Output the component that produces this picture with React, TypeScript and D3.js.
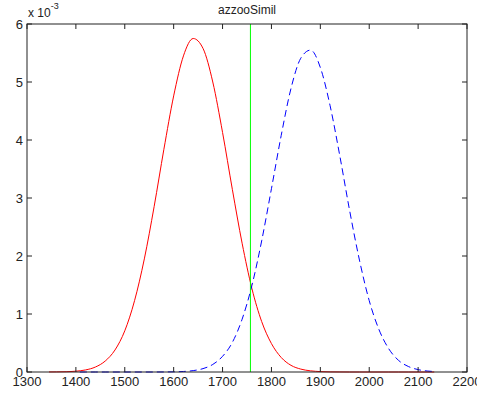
import React from "react";
import * as d3 from "d3";

const title = "azzooSimil";
const xTicks = [1300, 1400, 1500, 1600, 1700, 1800, 1900, 2000, 2100, 2200];
const yTicks = [0, 1, 2, 3, 4, 5, 6];

const redX = [1345, 1360, 1380, 1400, 1420, 1440, 1460, 1480, 1500, 1520, 1540, 1560, 1580, 1600, 1620, 1640, 1660, 1680, 1700, 1720, 1740, 1760, 1780, 1800, 1820, 1840, 1860, 1880, 1900, 1920, 1940, 1960, 1980, 2000, 2020, 2040, 2060, 2080, 2100, 2120, 2133];
const redY = [0.001, 0.002, 0.005, 0.014, 0.036, 0.086, 0.189, 0.38, 0.71, 1.23, 1.95, 2.85, 3.84, 4.76, 5.45, 5.75, 5.58, 5.0, 4.13, 3.15, 2.22, 1.44, 0.87, 0.49, 0.25, 0.115, 0.05, 0.02, 0.007, 0.002, 0.001, 0, 0, 0, 0, 0, 0, 0, 0, 0, 0];

const blueX = [1408, 1420, 1440, 1460, 1480, 1500, 1520, 1540, 1560, 1580, 1600, 1620, 1640, 1660, 1680, 1700, 1720, 1740, 1760, 1780, 1800, 1820, 1840, 1860, 1880, 1900, 1920, 1940, 1960, 1980, 2000, 2020, 2040, 2060, 2080, 2100, 2120, 2130];
const blueY = [0, 0, 0, 0, 0, 0, 0, 0, 0, 0.001, 0.003, 0.009, 0.024, 0.058, 0.13, 0.27, 0.51, 0.91, 1.49, 2.26, 3.16, 4.08, 4.89, 5.41, 5.55, 5.25, 4.59, 3.72, 2.78, 1.93, 1.23, 0.73, 0.4, 0.2, 0.095, 0.041, 0.016, 0.01];

const thresholdX = 1757;

const W = 477;
const H = 405;
const left = 27;
const right = 467;
const top = 24;
const bottom = 372;
const font = "'Liberation Sans', Arial, Helvetica, sans-serif";

export default function App() {
  const x = d3.scaleLinear().domain([1300, 2200]).range([left, right]);
  const y = d3.scaleLinear().domain([0, 6]).range([bottom, top]);
  const line = d3
    .line<[number, number]>()
    .x((d) => x(d[0]))
    .y((d) => y(d[1]))
    .curve(d3.curveMonotoneX);
  const red = redX.map((v, i) => [v, redY[i]] as [number, number]);
  const blue = blueX.map((v, i) => [v, blueY[i]] as [number, number]);
  const tl = 5;
  return (
    <svg
      width={W}
      height={H}
      style={{ position: "absolute", left: 0, top: 0, background: "#fff" }}
    >
      <rect x={0} y={0} width={W} height={H} fill="#fff" />
      <path d={line(red) || ""} fill="none" stroke="#ff0000" strokeWidth={1} />
      <path
        d={line(blue) || ""}
        fill="none"
        stroke="#0000ff"
        strokeWidth={1}
        strokeDasharray="7,4"
      />
      <line
        x1={x(thresholdX)}
        x2={x(thresholdX)}
        y1={y(0)}
        y2={y(6)}
        stroke="#00ff00"
        strokeWidth={1}
      />
      <rect
        x={left}
        y={top}
        width={right - left}
        height={bottom - top}
        fill="none"
        stroke="#222"
        strokeWidth={1}
      />
      {xTicks.map((t) => (
        <g key={"x" + t}>
          <line x1={x(t)} x2={x(t)} y1={bottom} y2={bottom - tl} stroke="#222" />
          <line x1={x(t)} x2={x(t)} y1={top} y2={top + tl} stroke="#222" />
          <text
            x={x(t)}
            y={bottom + 14}
            textAnchor="middle"
            fontFamily={font}
            fontSize={13}
            fill="#222"
          >
            {t}
          </text>
        </g>
      ))}
      {yTicks.map((t) => (
        <g key={"y" + t}>
          <line x1={left} x2={left + tl} y1={y(t)} y2={y(t)} stroke="#222" />
          <line x1={right} x2={right - tl} y1={y(t)} y2={y(t)} stroke="#222" />
          <text
            x={left - 4}
            y={y(t) + 4.5}
            textAnchor="end"
            fontFamily={font}
            fontSize={13}
            fill="#222"
          >
            {t}
          </text>
        </g>
      ))}
      <text x={28} y={17} fontFamily={font} fontSize={12} fill="#222">
        x 10
        <tspan dy={-8} fontSize={9}>
          -3
        </tspan>
      </text>
      <text
        x={(left + right) / 2}
        y={14}
        textAnchor="middle"
        fontFamily={font}
        fontSize={12}
        fill="#222"
      >
        {title}
      </text>
    </svg>
  );
}
